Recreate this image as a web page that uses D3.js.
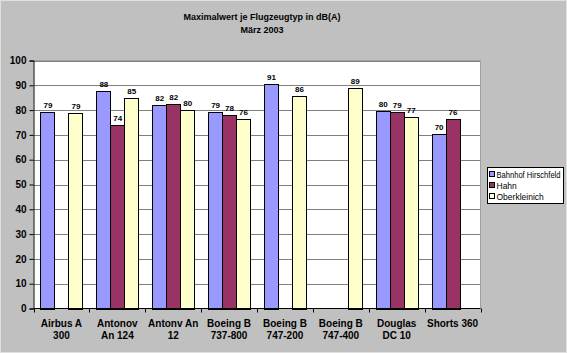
<!DOCTYPE html>
<html>
<head>
<meta charset="utf-8">
<script src="https://cdn.jsdelivr.net/npm/d3@7"></script>
<style>
  body { margin: 0; padding: 0; background: #fff; }
  svg text { font-family: Arial, "Liberation Sans", sans-serif; }
</style>
</head>
<body>
<div id="chart"></div>
<script>
// aircraft types (two-line labels)
var categories = [
  ["Airbus A", "300"],
  ["Antonov", "An 124"],
  ["Antonv An", "12"],
  ["Boeing B", "737-800"],
  ["Boeing B", "747-200"],
  ["Boeing B", "747-400"],
  ["Douglas", "DC 10"],
  ["Shorts 360"]
];
var seriesNames = ["Bahnhof Hirschfeld", "Hahn", "Oberkleinich"];
// null = no measurement
var hirschfeld = [79.4, 87.6, 82.0, 79.4, 90.6, null, 79.6, 70.2];
var hahn       = [null, 74.1, 82.4, 78.2, null, null, 79.4, 76.3];
var oberklein  = [78.8, 84.8, 80.2, 76.4, 85.8, 88.9, 77.1, null];
var yTicks = [0, 10, 20, 30, 40, 50, 60, 70, 80, 90, 100];
var colors = ["#9999FF", "#993366", "#FFFFCC"];

var W = 567, H = 353;
var plot = { left: 33.5, top: 60.5, right: 480.5, bottom: 308.5 };

var svg = d3.select("#chart").append("svg")
  .attr("width", W).attr("height", H);

// outer chart area
svg.append("rect")
  .attr("x", 0.5).attr("y", 0.5)
  .attr("width", W - 1).attr("height", H - 1)
  .attr("fill", "#C0C0C0")
  .attr("stroke", "#E0E0E0");

// title
svg.append("text").attr("x", 262).attr("y", 20)
  .attr("text-anchor", "middle").attr("font-size", "9px").attr("font-weight", "bold")
  .text("Maximalwert je Flugzeugtyp in dB(A)");
svg.append("text").attr("x", 262).attr("y", 33)
  .attr("text-anchor", "middle").attr("font-size", "9px").attr("font-weight", "bold")
  .text("März 2003");

var x = d3.scaleBand()
  .domain(d3.range(categories.length))
  .range([plot.left, plot.right]);
var y = d3.scaleLinear().domain([0, 100]).range([plot.bottom, plot.top]);

var barW = x.bandwidth() / 4;  // 3 bars + 100% gap

// plot background
svg.append("rect")
  .attr("x", plot.left).attr("y", plot.top)
  .attr("width", plot.right - plot.left).attr("height", plot.bottom - plot.top)
  .attr("fill", "#fff");

// gridlines
svg.append("g").selectAll("line")
  .data(yTicks.filter(function (d) { return d > 0; }))
  .enter().append("line")
  .attr("x1", plot.left).attr("x2", plot.right)
  .attr("y1", function (d) { return Math.round(y(d)) + 0.5; })
  .attr("y2", function (d) { return Math.round(y(d)) + 0.5; })
  .attr("stroke", "#808080");

// plot border (top/right)
svg.append("path")
  .attr("d", "M" + plot.left + "," + plot.top + "H" + plot.right + "V" + plot.bottom)
  .attr("fill", "none").attr("stroke", "#A0A0A0");

// bars
var data = [hirschfeld, hahn, oberklein];
data.forEach(function (vals, s) {
  var g = svg.append("g");
  var pts = vals.map(function (v, i) { return { i: i, v: v }; })
    .filter(function (d) { return d.v !== null; });
  g.selectAll("rect").data(pts).enter().append("rect")
    .attr("x", function (d) { return Math.round(x(d.i) + barW / 2 + s * barW) + 0.5; })
    .attr("y", function (d) { return Math.round(y(d.v)) + 0.5; })
    .attr("width", Math.round(barW))
    .attr("height", function (d) { return Math.round(y(0)) - Math.round(y(d.v)); })
    .attr("fill", colors[s])
    .attr("stroke", "#000").attr("stroke-width", 1);
  g.selectAll("text").data(pts).enter().append("text")
    .attr("x", function (d) { return x(d.i) + barW / 2 + s * barW + barW / 2 + 0.5; })
    .attr("y", function (d) { return y(d.v) - 4; })
    .attr("text-anchor", "middle")
    .attr("font-size", "8px").attr("font-weight", "bold")
    .text(function (d) { return Math.round(d.v); });
});

// y axis
var yAxis = svg.append("g")
  .attr("transform", "translate(" + plot.left + ",0)")
  .call(d3.axisLeft(y).tickValues(yTicks).tickSize(4).tickPadding(3));
yAxis.select(".domain").attr("stroke", "#000");
yAxis.selectAll("line").attr("stroke", "#000");
yAxis.selectAll("text")
  .attr("font-size", "10px").attr("font-weight", "bold")
  .attr("font-family", "Arial, 'Liberation Sans', sans-serif").attr("fill", "#000");

// x axis line and ticks at category boundaries
svg.append("line")
  .attr("x1", plot.left).attr("x2", plot.right)
  .attr("y1", plot.bottom).attr("y2", plot.bottom)
  .attr("stroke", "#000");
svg.append("g").selectAll("line")
  .data(d3.range(categories.length + 1))
  .enter().append("line")
  .attr("x1", function (i) { return Math.round(plot.left + i * x.step()) + 0.5; })
  .attr("x2", function (i) { return Math.round(plot.left + i * x.step()) + 0.5; })
  .attr("y1", plot.bottom).attr("y2", plot.bottom + 4)
  .attr("stroke", "#000");

var xl = svg.append("g").selectAll("text")
  .data(categories).enter().append("text")
  .attr("x", function (d, i) { return x(i) + x.bandwidth() / 2; })
  .attr("y", 327)
  .attr("text-anchor", "middle")
  .attr("font-size", "10px").attr("font-weight", "bold");
xl.selectAll("tspan").data(function (d) { return d; }).enter().append("tspan")
  .attr("x", function () { return d3.select(this.parentNode).attr("x"); })
  .attr("dy", function (d, j) { return j === 0 ? 0 : 12; })
  .text(function (d) { return d; });

// legend
var lg = svg.append("g").attr("transform", "translate(487.5,167.5)");
lg.append("rect").attr("width", 76).attr("height", 36)
  .attr("fill", "#fff").attr("stroke", "#000");
seriesNames.forEach(function (name, s) {
  lg.append("rect")
    .attr("x", 2).attr("y", 4 + s * 11)
    .attr("width", 5).attr("height", 5)
    .attr("fill", colors[s]).attr("stroke", "#000");
  var t = lg.append("text")
    .attr("x", 9).attr("y", 10 + s * 11)
    .attr("font-size", "8.5px")
    .text(name);
  // squeeze long labels to fit inside the box
  if (t.node().getComputedTextLength() > 64) {
    t.attr("textLength", 64).attr("lengthAdjust", "spacingAndGlyphs");
  }
});
</script>
</body>
</html>
